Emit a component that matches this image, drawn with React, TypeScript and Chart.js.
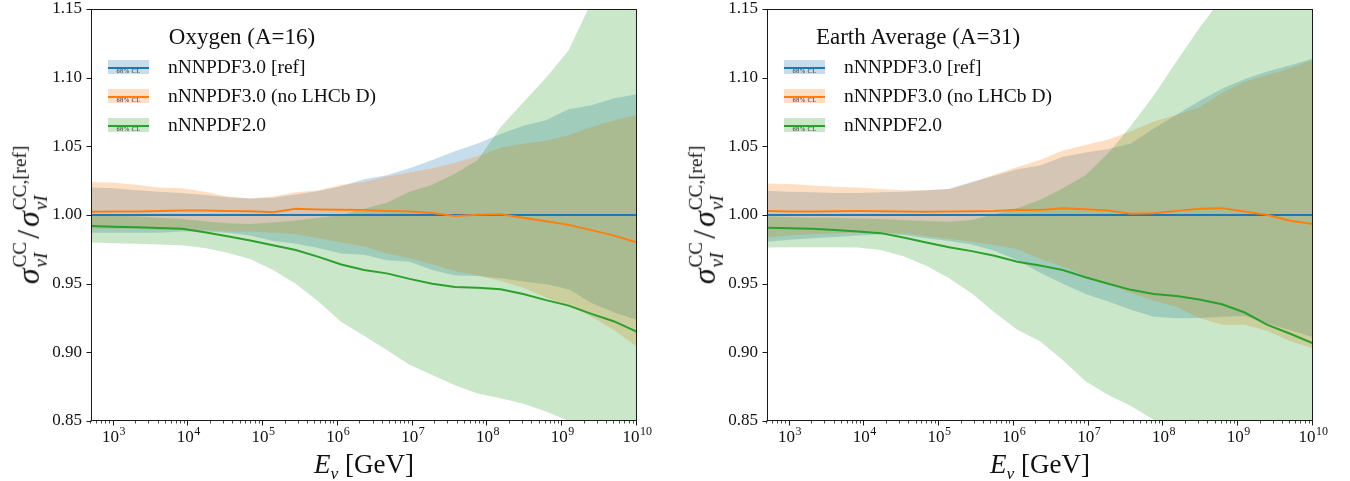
import React, { useEffect, useRef } from "react";
import { Chart, registerables } from "chart.js";

Chart.register(...registerables);

// ---------- data ----------
const energies = [
  500, 1.01e3, 2.03e3, 4.09e3, 8.24e3, 1.66e4, 3.34e4, 6.74e4, 1.36e5, 2.73e5,
  5.51e5, 1.11e6, 2.24e6, 4.5e6, 9.08e6, 1.83e7, 3.68e7, 7.42e7, 1.5e8, 3.01e8,
  6.07e8, 1.22e9, 2.46e9, 4.96e9, 1e10,
];

const yTicks = [0.85, 0.9, 0.95, 1.0, 1.05, 1.1, 1.15];
const xTickExponents = [3, 4, 5, 6, 7, 8, 9, 10];
const seriesLabels = ["nNNPDF3.0 [ref]", "nNNPDF3.0 (no LHCb D)", "nNNPDF2.0"];
const panelTitles = ["Oxygen (A=16)", "Earth Average (A=31)"];

// Oxygen (A=16)
const oxRef = [1, 1, 1, 1, 1, 1, 1, 1, 1, 1, 1, 1, 1, 1, 1, 1, 1, 1, 1, 1, 1, 1, 1, 1, 1];
const oxRefUp = [1.02, 1.0195, 1.018, 1.017, 1.016, 1.0145, 1.013, 1.012, 1.0125, 1.015, 1.0175, 1.021, 1.026, 1.029, 1.034, 1.04, 1.0465, 1.052, 1.059, 1.065, 1.069, 1.077, 1.08, 1.085, 1.088];
const oxRefLo = [0.987, 0.987, 0.987, 0.987, 0.988, 0.988, 0.987, 0.985, 0.981, 0.979, 0.976, 0.972, 0.971, 0.967, 0.966, 0.96, 0.956, 0.9555, 0.954, 0.9515, 0.9495, 0.946, 0.936, 0.929, 0.9235];
const oxNoD = [1.0024, 1.0025, 1.0025, 1.003, 1.0033, 1.0032, 1.003, 1.0028, 1.002, 1.0045, 1.004, 1.0038, 1.0036, 1.003, 1.0025, 1.0015, 0.9992, 1.0002, 1.0005, 0.998, 0.9955, 0.9928, 0.989, 0.985, 0.98];
const oxNoDUp = [1.024, 1.0235, 1.022, 1.02, 1.0195, 1.017, 1.0135, 1.012, 1.0135, 1.0165, 1.018, 1.022, 1.024, 1.028, 1.031, 1.034, 1.038, 1.043, 1.049, 1.052, 1.054, 1.058, 1.064, 1.069, 1.073];
const oxNoDLo = [0.99, 0.99, 0.99, 0.989, 0.989, 0.989, 0.988, 0.988, 0.987, 0.986, 0.983, 0.98, 0.977, 0.972, 0.9685, 0.964, 0.959, 0.956, 0.952, 0.947, 0.94, 0.934, 0.926, 0.916, 0.904];
const oxV2 = [0.992, 0.9915, 0.991, 0.9905, 0.99, 0.9875, 0.9845, 0.9815, 0.978, 0.9745, 0.9695, 0.964, 0.96, 0.9575, 0.9535, 0.95, 0.9475, 0.947, 0.946, 0.9425, 0.938, 0.934, 0.928, 0.9225, 0.915];
const oxV2Up = [1.0, 0.9995, 0.999, 0.998, 0.997, 0.9955, 0.994, 0.9935, 0.9945, 0.996, 0.998, 1.0, 1.0045, 1.009, 1.017, 1.022, 1.03, 1.04, 1.064, 1.082, 1.1, 1.12, 1.155, 1.19, 1.23];
const oxV2Lo = [0.98, 0.9795, 0.979, 0.9785, 0.978, 0.976, 0.9725, 0.968, 0.96, 0.95, 0.937, 0.922, 0.912, 0.9017, 0.891, 0.8835, 0.876, 0.87, 0.8665, 0.8625, 0.857, 0.85, 0.843, 0.835, 0.828];

// Earth Average (A=31)
const eaRef = [1, 1, 1, 1, 1, 1, 1, 1, 1, 1, 1, 1, 1, 1, 1, 1, 1, 1, 1, 1, 1, 1, 1, 1, 1];
const eaRefUp = [1.0177, 1.017, 1.0165, 1.016, 1.016, 1.0165, 1.017, 1.018, 1.019, 1.024, 1.0285, 1.0333, 1.036, 1.0425, 1.0456, 1.048, 1.052, 1.063, 1.073, 1.083, 1.092, 1.099, 1.1045, 1.109, 1.114];
const eaRefLo = [0.9806, 0.982, 0.983, 0.984, 0.985, 0.986, 0.9855, 0.983, 0.981, 0.9785, 0.974, 0.967, 0.958, 0.95, 0.9425, 0.937, 0.931, 0.926, 0.9248, 0.925, 0.926, 0.9265, 0.921, 0.916, 0.911];
const eaNoD = [1.003, 1.0025, 1.0025, 1.0028, 1.0029, 1.0028, 1.0026, 1.0024, 1.0025, 1.0027, 1.003, 1.0038, 1.0037, 1.0049, 1.0042, 1.0033, 1.001, 1.0012, 1.003, 1.0045, 1.005, 1.0025, 1.0, 0.9958, 0.9934];
const eaNoDUp = [1.023, 1.0225, 1.0215, 1.0205, 1.02, 1.019, 1.018, 1.018, 1.019, 1.0235, 1.0295, 1.035, 1.04, 1.047, 1.051, 1.055, 1.061, 1.068, 1.073, 1.0785, 1.089, 1.097, 1.102, 1.107, 1.113];
const eaNoDLo = [0.9838, 0.985, 0.986, 0.9865, 0.987, 0.987, 0.9865, 0.9845, 0.9825, 0.9805, 0.978, 0.975, 0.968, 0.9624, 0.9555, 0.9495, 0.943, 0.9375, 0.933, 0.925, 0.92, 0.92, 0.9155, 0.908, 0.903];
const eaV2 = [0.9908, 0.9904, 0.99, 0.989, 0.988, 0.9868, 0.9836, 0.98, 0.9765, 0.9737, 0.9703, 0.966, 0.9632, 0.96, 0.9547, 0.95, 0.9455, 0.9425, 0.941, 0.9385, 0.935, 0.929, 0.92, 0.9135, 0.9066];
const eaV2Up = [0.999, 0.9985, 0.998, 0.998, 0.9975, 0.997, 0.9964, 0.9957, 0.995, 0.9963, 1.0005, 1.005, 1.011, 1.0194, 1.029, 1.045, 1.065, 1.087, 1.112, 1.136, 1.158, 1.175, 1.19, 1.205, 1.22];
const eaV2Lo = [0.9764, 0.9765, 0.9765, 0.9765, 0.9764, 0.9745, 0.97, 0.963, 0.954, 0.943, 0.929, 0.9165, 0.908, 0.8944, 0.879, 0.869, 0.861, 0.851, 0.844, 0.837, 0.83, 0.823, 0.816, 0.809, 0.802];

// ---------- styling ----------
const LINE_COLORS = ["#1f77b4", "#ff7f0e", "#2ca02c"];
const BAND_COLORS = ["rgba(31,119,180,0.25)", "rgba(255,127,14,0.25)", "rgba(44,160,44,0.25)"];
const SERIF = '"Liberation Serif", "DejaVu Serif", serif';

const minorX: number[] = [];
for (let n = 2; n <= 9; n++) {
  for (let k = 2; k <= 9; k++) {
    const v = k * Math.pow(10, n);
    if (v >= 500 && v <= 1e10) minorX.push(v);
  }
}

const pts = (ys: number[]) => energies.map((e, i) => ({ x: e, y: ys[i] }));

const frameAndTicks = {
  id: "frameAndTicks",
  afterDraw(chart: any) {
    const { ctx, chartArea: a, scales } = chart;
    const xs = scales.x;
    const ys = scales.y;
    const L = Math.floor(a.left) + 0.5;
    const R = Math.ceil(a.right) - 0.5;
    const T = Math.floor(a.top) + 0.5;
    const B = Math.ceil(a.bottom) - 0.5;
    ctx.save();
    ctx.strokeStyle = "#1a1a1a";
    ctx.lineWidth = 1;
    ctx.strokeRect(L, T, R - L, B - T);
    ctx.beginPath();
    yTicks.forEach((v) => {
      const p = Math.round(ys.getPixelForValue(v)) + 0.5;
      ctx.moveTo(L - 5, p);
      ctx.lineTo(L, p);
    });
    xTickExponents.forEach((e) => {
      const p = Math.round(xs.getPixelForValue(Math.pow(10, e))) - 0.5;
      ctx.moveTo(p, B);
      ctx.lineTo(p, B + 5);
    });
    ctx.stroke();
    ctx.beginPath();
    ctx.lineWidth = 0.8;
    minorX.forEach((v) => {
      const p = Math.round(xs.getPixelForValue(v)) - 0.5;
      ctx.moveTo(p, B);
      ctx.lineTo(p, B + 3);
    });
    ctx.stroke();
    // x tick labels 10^n
    ctx.fillStyle = "#111";
    ctx.textBaseline = "alphabetic";
    ctx.textAlign = "left";
    xTickExponents.forEach((e) => {
      const p = xs.getPixelForValue(Math.pow(10, e));
      ctx.font = `17px ${SERIF}`;
      const w1 = ctx.measureText("10").width;
      ctx.font = `12px ${SERIF}`;
      const w2 = ctx.measureText(String(e)).width;
      const x0 = p - (w1 + w2) / 2;
      ctx.font = `17px ${SERIF}`;
      ctx.fillText("10", x0, a.bottom + 21);
      ctx.font = `12px ${SERIF}`;
      ctx.fillText(String(e), x0 + w1 + 0.5, a.bottom + 14);
    });
    ctx.restore();
  },
};

type PanelSeries = {
  central: number[][];
  up: number[][];
  lo: number[][];
};

function buildConfig(s: PanelSeries): any {
  const lineDs = (i: number) => ({
    data: pts(s.central[i]),
    borderColor: LINE_COLORS[i],
    borderWidth: 2,
    pointRadius: 0,
    fill: false,
    order: 0,
  });
  const edgeDs = (data: number[], fill: any, color: string, order: number) => ({
    data: pts(data),
    borderColor: "rgba(0,0,0,0)",
    borderWidth: 0,
    pointRadius: 0,
    backgroundColor: color,
    fill,
    order,
  });
  const datasets = [
    lineDs(2), // 0 green line (top)
    lineDs(1), // 1 orange line
    lineDs(0), // 2 blue line
    edgeDs(s.up[0], 4, BAND_COLORS[0], 3), // 3
    edgeDs(s.lo[0], false, BAND_COLORS[0], 3), // 4
    edgeDs(s.up[1], 6, BAND_COLORS[1], 2), // 5
    edgeDs(s.lo[1], false, BAND_COLORS[1], 2), // 6
    edgeDs(s.up[2], 8, BAND_COLORS[2], 1), // 7
    edgeDs(s.lo[2], false, BAND_COLORS[2], 1), // 8
  ];
  return {
    type: "line",
    data: { datasets },
    plugins: [frameAndTicks],
    options: {
      animation: false,
      responsive: false,
      devicePixelRatio: 1,
      events: [],
      layout: { padding: { left: 0, right: 37, top: 9, bottom: 0 } },
      elements: { line: { tension: 0 }, point: { radius: 0 } },
      plugins: {
        legend: { display: false },
        tooltip: { enabled: false },
        title: { display: false },
      },
      scales: {
        x: {
          type: "logarithmic",
          min: 500,
          max: 1e10,
          grid: { display: false, drawTicks: false },
          border: { display: false },
          ticks: { display: false },
          afterBuildTicks: (sc: any) => {
            sc.ticks = xTickExponents.map((e) => ({ value: Math.pow(10, e) }));
          },
          afterFit: (sc: any) => {
            sc.height = 60;
            sc.paddingLeft = 0;
            sc.paddingRight = 0;
          },
        },
        y: {
          type: "linear",
          min: 0.85,
          max: 1.15,
          grid: { display: false, drawTicks: false },
          border: { display: false },
          afterBuildTicks: (sc: any) => {
            sc.ticks = yTicks.map((v) => ({ value: v }));
          },
          ticks: {
            padding: 9,
            color: "#111",
            font: { family: SERIF, size: 17, lineHeight: 1 },
            callback: (v: any) => Number(v).toFixed(2),
          },
          afterFit: (sc: any) => {
            sc.width = 91;
            sc.paddingTop = 0;
            sc.paddingBottom = 0;
          },
        },
      },
    },
  };
}

function Stack({ sup, sub }: { sup: string; sub: string }) {
  return (
    <span
      style={{
        display: "inline-block",
        verticalAlign: "-8px",
        fontSize: "0.6em",
        lineHeight: 1.1,
        textAlign: "left",
        marginLeft: 1,
      }}
    >
      <span style={{ display: "block" }}>{sup}</span>
      <span style={{ display: "block", fontStyle: "italic" }}>{sub}</span>
    </span>
  );
}

function Handle({ i }: { i: number }) {
  return (
    <div style={{ position: "relative", width: 41, height: 14, background: BAND_COLORS[i], flex: "none" }}>
      <div style={{ position: "absolute", left: 0, right: 0, top: 7, height: 2, background: LINE_COLORS[i] }} />
      <div
        style={{
          position: "absolute",
          left: 0,
          right: 0,
          top: 8,
          textAlign: "center",
          fontSize: 6.5,
          lineHeight: 1,
          color: "#333",
          letterSpacing: 0.4,
        }}
      >
        68% CL
      </div>
    </div>
  );
}

function Panel({ offset, title, series }: { offset: number; title: string; series: PanelSeries }) {
  const ref = useRef<HTMLCanvasElement>(null);
  useEffect(() => {
    const chart = new Chart(ref.current as HTMLCanvasElement, buildConfig(series));
    return () => chart.destroy();
  }, []);
  return (
    <>
      <canvas
        ref={ref}
        width={674}
        height={481}
        style={{ position: "absolute", left: offset, top: 0, width: 674, height: 481 }}
      />
      {/* y-axis title */}
      <div
        style={{
          position: "absolute",
          left: offset + 30,
          top: 215,
          transform: "translate(-50%, -50%) rotate(-90deg)",
          whiteSpace: "nowrap",
          fontSize: 32,
          lineHeight: 1,
          color: "#111",
        }}
      >
        <span style={{ fontStyle: "italic" }}>σ</span>
        <Stack sup="CC" sub="νI" />
        <span style={{ margin: "0 3px" }}>/</span>
        <span style={{ fontStyle: "italic" }}>σ</span>
        <Stack sup="CC,[ref]" sub="νI" />
      </div>
      {/* x-axis title */}
      <div
        style={{
          position: "absolute",
          left: offset + 364,
          top: 451,
          transform: "translateX(-50%)",
          whiteSpace: "nowrap",
          fontSize: 27,
          lineHeight: 1,
          color: "#111",
        }}
      >
        <span style={{ fontStyle: "italic" }}>E</span>
        <span style={{ fontStyle: "italic", fontSize: "0.65em", position: "relative", top: "0.35em" }}>ν</span>
        <span> [GeV]</span>
      </div>
      {/* legend */}
      <div style={{ position: "absolute", left: offset + 108, top: 21, color: "#111" }}>
        <div style={{ textAlign: "center", fontSize: 23, height: 31, lineHeight: "31px", whiteSpace: "nowrap" }}>
          {title}
        </div>
        {seriesLabels.map((lab, i) => (
          <div key={lab} style={{ display: "flex", alignItems: "center", height: 29 }}>
            <Handle i={i} />
            <span style={{ marginLeft: 19, fontSize: 19.5, lineHeight: 1, whiteSpace: "nowrap" }}>{lab}</span>
          </div>
        ))}
      </div>
    </>
  );
}

const oxygen: PanelSeries = {
  central: [oxRef, oxNoD, oxV2],
  up: [oxRefUp, oxNoDUp, oxV2Up],
  lo: [oxRefLo, oxNoDLo, oxV2Lo],
};
const earth: PanelSeries = {
  central: [eaRef, eaNoD, eaV2],
  up: [eaRefUp, eaNoDUp, eaV2Up],
  lo: [eaRefLo, eaNoDLo, eaV2Lo],
};

export default function App() {
  return (
    <div
      style={{
        position: "absolute",
        left: 0,
        top: 0,
        width: 1350,
        height: 481,
        overflow: "hidden",
        background: "#fff",
        fontFamily: SERIF,
      }}
    >
      <Panel offset={0} title={panelTitles[0]} series={oxygen} />
      <Panel offset={676} title={panelTitles[1]} series={earth} />
    </div>
  );
}
